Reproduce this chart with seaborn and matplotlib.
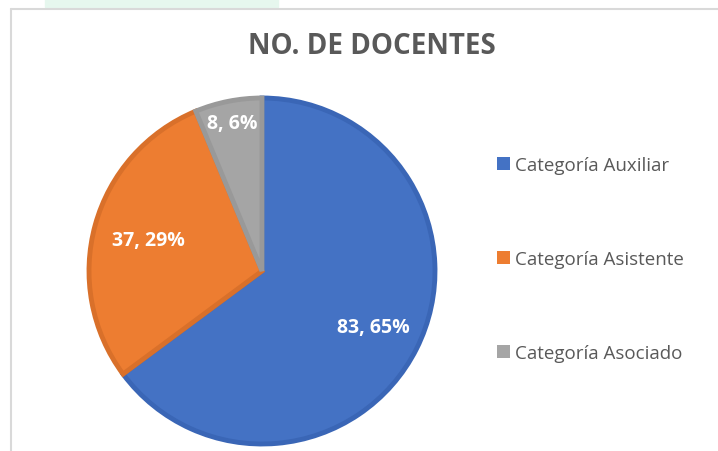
import numpy as np
import seaborn as sns
import matplotlib.pyplot as plt
import matplotlib.patches as mpatches
import matplotlib.lines as mlines

# data
categorias = ['Categoría Auxiliar', 'Categoría Asistente', 'Categoría Asociado']
docentes = [83, 37, 8]
colores = ['#4472C4', '#ED7D31', '#A5A5A5']
bordes = ['#3A66B6', '#D9702A', '#999999']
titulo = 'NO. DE DOCENTES'

W, H = 718, 452

sns.set_theme(style='white')
plt.rcParams['font.family'] = ['Open Sans', 'DejaVu Sans']

fig = plt.figure(figsize=(W / 100, H / 100), dpi=100)
fig.patch.set_facecolor('white')

# little green strip on top and the chart frame lines
fig.patches.append(mpatches.Rectangle((45 / W, 1 - 8 / H), 233 / W, 8 / H,
                                      transform=fig.transFigure, color='#E6F7EE', zorder=0))
fig.lines.append(mlines.Line2D([11 / W, 11 / W], [0, 1 - 10 / H], transform=fig.transFigure,
                               color='#D9D9D9', lw=1.5))
fig.lines.append(mlines.Line2D([11 / W, 1], [1 - 10 / H, 1 - 10 / H], transform=fig.transFigure,
                               color='#D9D9D9', lw=1.5))

# pie centre (262, 272), radius 173 px
cx, cy, r = 262, 272, 173
ax = fig.add_axes([(cx - r) / W, (H - cy - r) / H, 2 * r / W, 2 * r / H])
wedges, _ = ax.pie(docentes, colors=colores, startangle=90, counterclock=False,
                   wedgeprops=dict(linewidth=3.5))
for w, b in zip(wedges, bordes):
    w.set_edgecolor(b)
ax.set_xlim(-1, 1)
ax.set_ylim(-1, 1)
ax.set_aspect('equal')
ax.axis('off')

total = sum(docentes)
dist = [0.72, 0.68, 0.87]
for w, v, d in zip(wedges, docentes, dist):
    ang = np.deg2rad((w.theta1 + w.theta2) / 2)
    ax.text(d * np.cos(ang), d * np.sin(ang), f'{v}, {round(100 * v / total)}%',
            ha='center', va='center', color='white', fontsize=14, fontweight='bold')

fig.text(372 / W, 1 - 47 / H, titulo, ha='center', va='center',
         fontsize=20, fontweight='bold', color='#595959')

handles = [mpatches.Patch(facecolor=c, edgecolor='none') for c in colores]
leg = fig.legend(handles, categorias, loc='center left',
                 bbox_to_anchor=(480 / W, 1 - 260 / H), frameon=False,
                 fontsize=13.5, labelspacing=4.05, handlelength=0.72, handleheight=0.72,
                 handletextpad=0.25, labelcolor='#595959')

plt.savefig('out.png', dpi=100)
